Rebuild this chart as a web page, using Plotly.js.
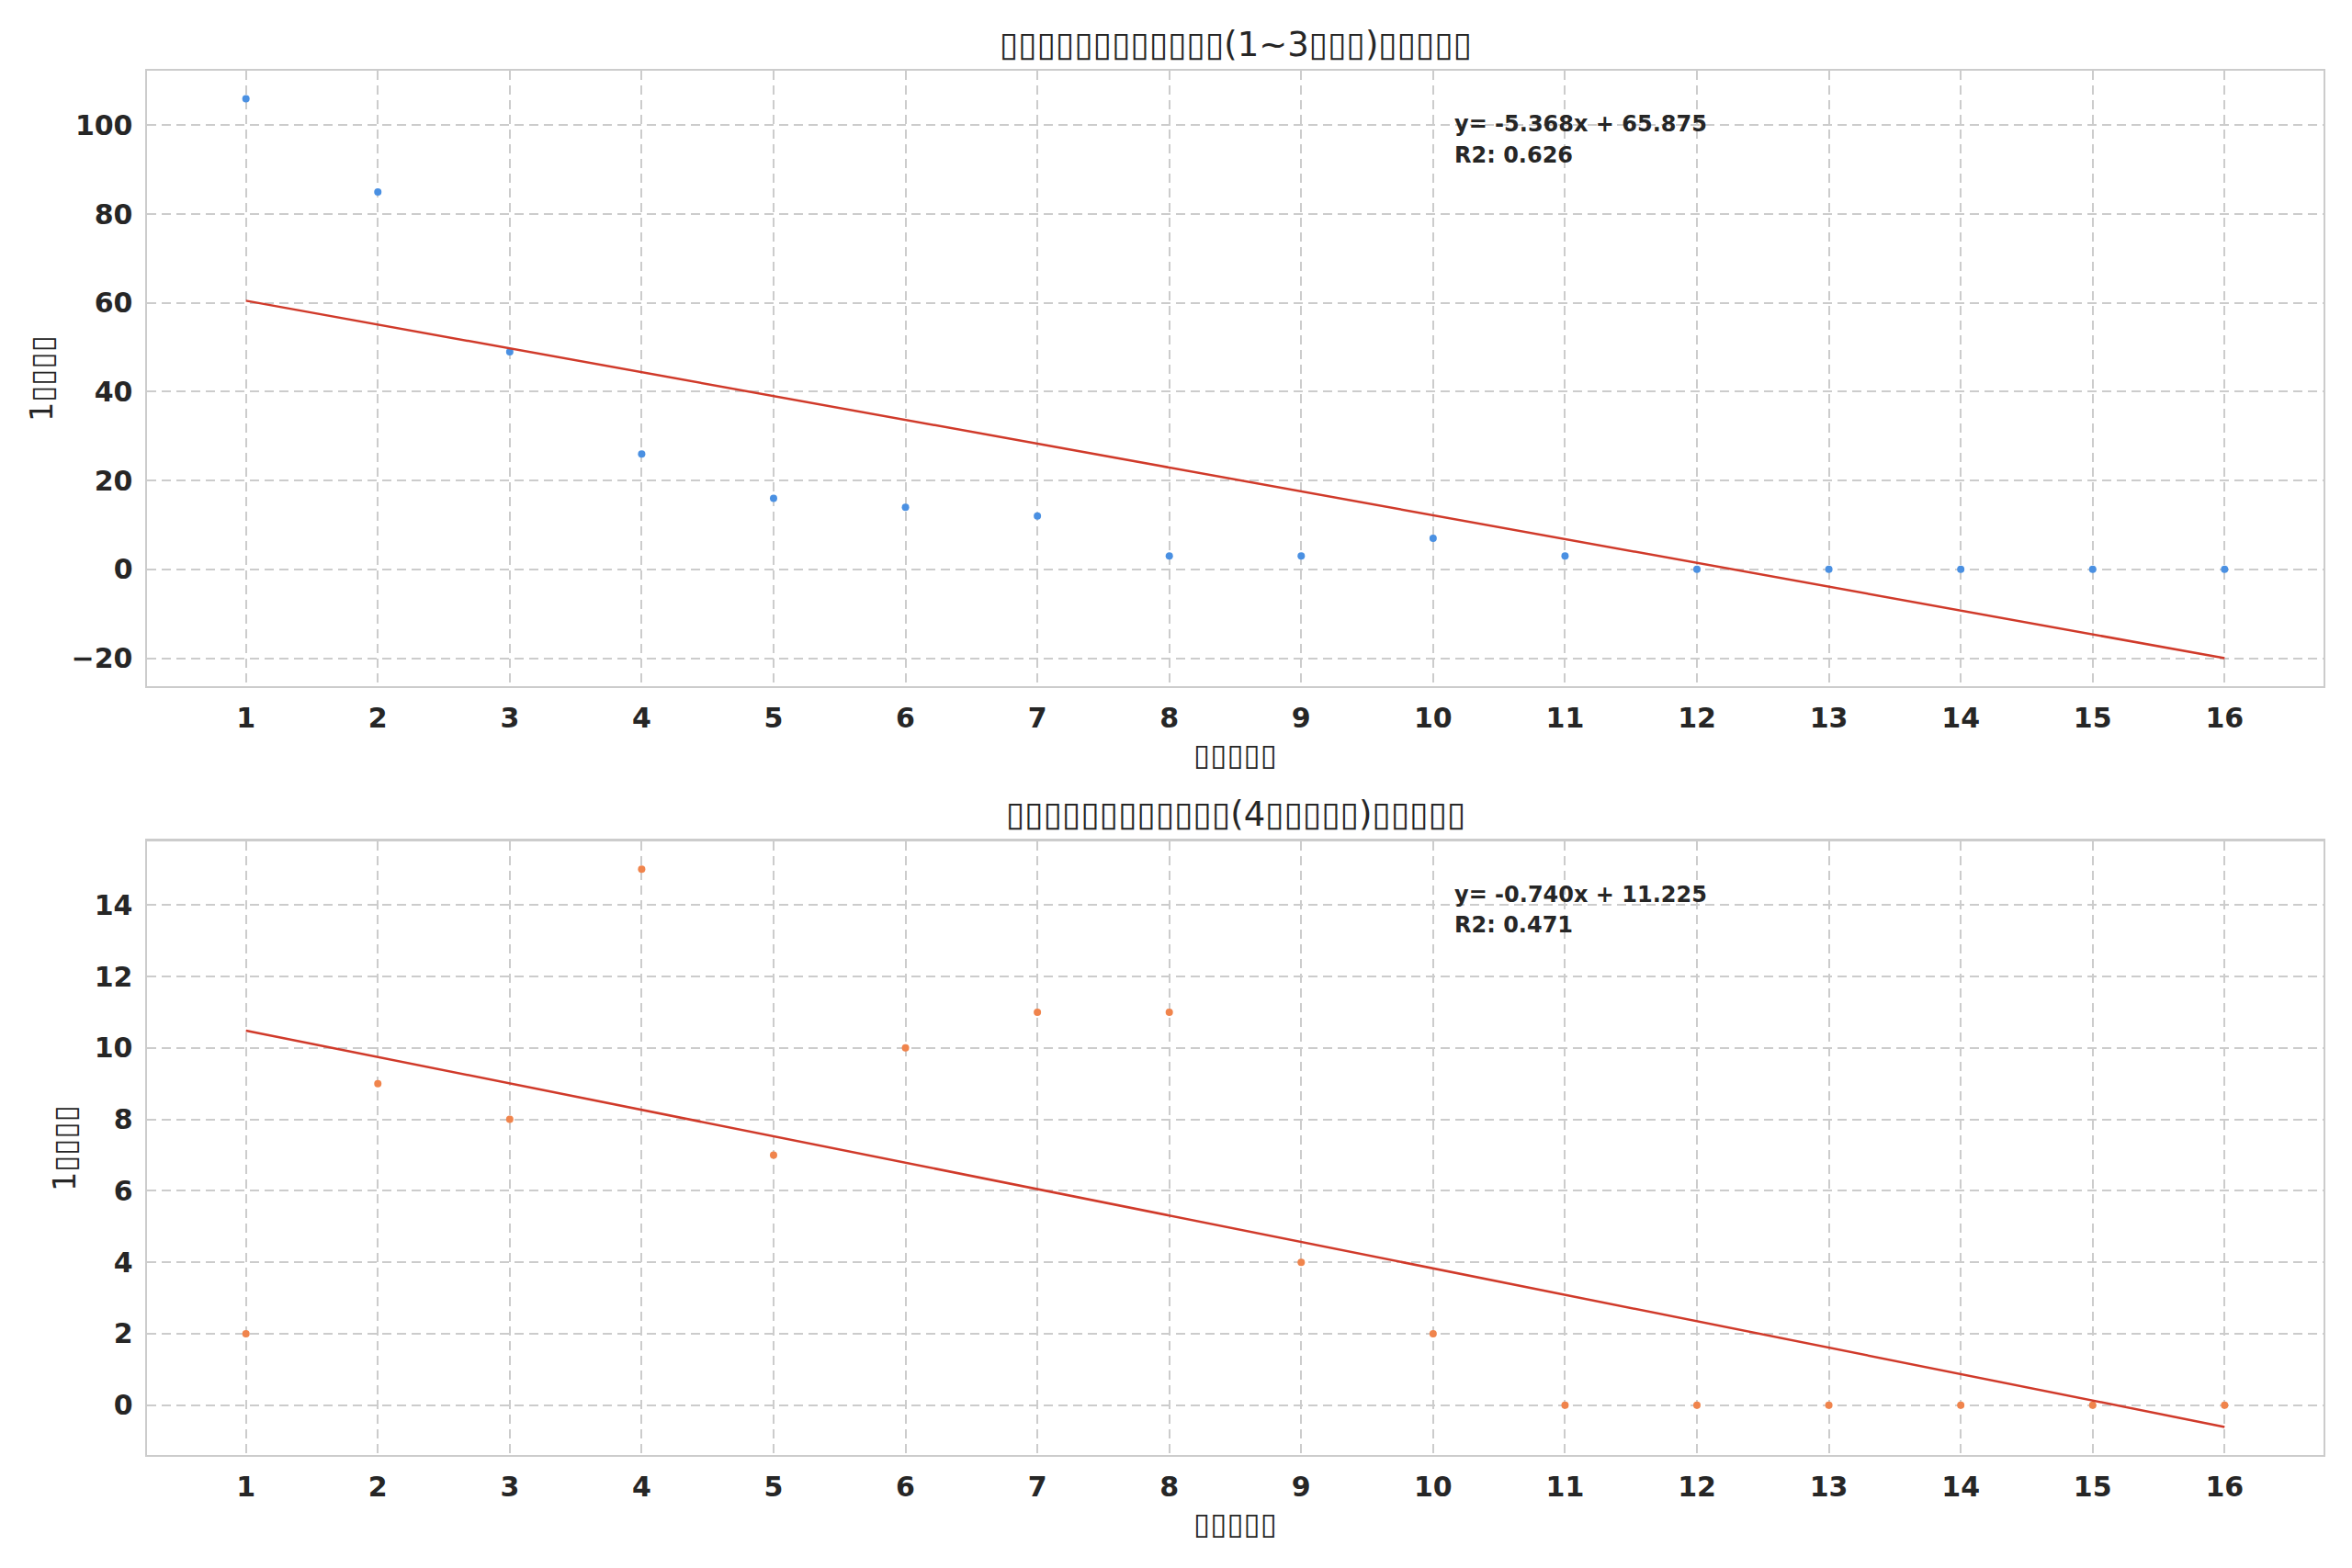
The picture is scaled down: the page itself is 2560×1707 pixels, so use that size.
<!DOCTYPE html>
<html><head><meta charset="utf-8">
<script src="https://cdn.plot.ly/plotly-3.0.1.min.js"></script>
<style>body{margin:0;background:#fff}#c{width:2560px;height:1707px}</style>
</head><body><div id="c"></div>
<script>
// Data
const weeks = [1,2,3,4,5,6,7,8,9,10,11,12,13,14,15,16];
const valuesTop = [106,85,49,26,16,14,12,3,3,7,3,0,0,0,0,0];
const valuesBottom = [2,9,8,15,7,10,11,11,4,2,0,0,0,0,0,0];
const titleTop = "▯▯▯▯▯▯▯▯▯▯▯▯(1~3▯▯▯)▯▯▯▯▯";
const titleBottom = "▯▯▯▯▯▯▯▯▯▯▯▯(4▯▯▯▯▯)▯▯▯▯▯";
const xLabel = "▯▯▯▯▯";
const yLabel = "1▯▯▯▯";
const yTicksTop = [-20,0,20,40,60,80,100];
const yTicksBottom = [0,2,4,6,8,10,12,14];

function fit(x, y){
  const n = x.length;
  const mx = x.reduce((a,b)=>a+b,0)/n, my = y.reduce((a,b)=>a+b,0)/n;
  let sxy=0, sxx=0, syy=0;
  for(let i=0;i<n;i++){sxy+=(x[i]-mx)*(y[i]-my);sxx+=(x[i]-mx)**2;syy+=(y[i]-my)**2;}
  const m = sxy/sxx, b = my - m*mx;
  return {m, b, r2: (sxy*sxy)/(sxx*syy)};
}
const fT = fit(weeks, valuesTop), fB = fit(weeks, valuesBottom);
const lineX = [weeks[0], weeks[weeks.length-1]];

const tickFont = {family:"DejaVu Sans", size:30, color:"#262626", weight:"bold"};
const titleFont = {family:"DejaVu Sans", size:33, color:"#262626"};
const grid = {showgrid:true, gridcolor:"#cccccc", gridwidth:2, griddash:"10px,6px",
  showline:true, mirror:true, linecolor:"#cccccc", linewidth:2.5, zeroline:false,
  tickfont:tickFont, ticks:"outside", ticklen:7, tickcolor:"rgba(0,0,0,0)"};

const traces = [
  {x:weeks, y:valuesTop, mode:"markers", type:"scatter", xaxis:"x", yaxis:"y",
   marker:{color:"#4a90e2", size:8}, showlegend:false},
  {x:lineX, y:lineX.map(v=>fT.m*v+fT.b), mode:"lines", type:"scatter", xaxis:"x", yaxis:"y",
   line:{color:"#d03a2a", width:2.5}, showlegend:false},
  {x:weeks, y:valuesBottom, mode:"markers", type:"scatter", xaxis:"x2", yaxis:"y2",
   marker:{color:"#f0844c", size:8}, showlegend:false},
  {x:lineX, y:lineX.map(v=>fB.m*v+fB.b), mode:"lines", type:"scatter", xaxis:"x2", yaxis:"y2",
   line:{color:"#d03a2a", width:2.5}, showlegend:false}
];

function eq(f){return "y= "+f.m.toFixed(3)+"x"+(f.b<0?" - ":" + ")+Math.abs(f.b).toFixed(3);}
const annFont = {family:"DejaVu Sans", size:24, color:"#262626", weight:"bold"};
function ann(xr, yr, text, y){
  return {text, xref:xr+" domain", yref:yr+" domain", x:0.6, y, xanchor:"left", yanchor:"top",
    align:"left", showarrow:false, font:annFont};
}

const layout = {
  width:2560, height:1707, margin:{l:0,r:0,t:0,b:0},
  paper_bgcolor:"#ffffff", plot_bgcolor:"#ffffff",
  xaxis: Object.assign({}, grid, {domain:[0.0625,0.98789], anchor:"y", range:[0.25,16.75], tickmode:"array", tickvals:weeks,
    title:{text:xLabel, font:titleFont, standoff:12}}),
  yaxis: Object.assign({}, grid, {domain:[0.5624,0.95489], anchor:"x", range:[-26.3,112.3], tickmode:"array", tickvals:yTicksTop,
    title:{text:yLabel, font:titleFont, standoff:10}}),
  xaxis2: Object.assign({}, grid, {domain:[0.0625,0.98789], anchor:"y2", range:[0.25,16.75], tickmode:"array", tickvals:weeks,
    title:{text:xLabel, font:titleFont, standoff:12}}),
  yaxis2: Object.assign({}, grid, {domain:[0.07206,0.46339], anchor:"x2", range:[-1.396,15.78], tickmode:"array", tickvals:yTicksBottom,
    title:{text:yLabel, font:titleFont, standoff:10}}),
  annotations:[
    {text:titleTop, xref:"paper", yref:"paper", x:0.5252, y:0.9713, xanchor:"center", yanchor:"middle", showarrow:false,
     font:{family:"DejaVu Sans", size:37, color:"#262626"}},
    {text:titleBottom, xref:"paper", yref:"paper", x:0.5252, y:0.4804, xanchor:"center", yanchor:"middle", showarrow:false,
     font:{family:"DejaVu Sans", size:37, color:"#262626"}},
    ann("x","y", eq(fT), 0.937),
    ann("x","y", "R2: "+fT.r2.toFixed(3), 0.937-0.05),
    ann("x2","y2", eq(fB), 0.937),
    ann("x2","y2", "R2: "+fB.r2.toFixed(3), 0.937-0.05)
  ]
};
Plotly.newPlot("c", traces, layout, {staticPlot:true});
</script></body></html>
